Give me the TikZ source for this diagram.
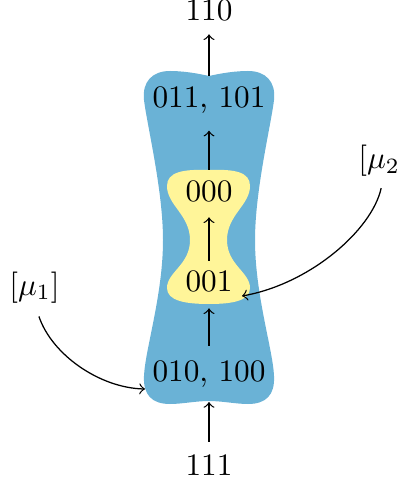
\documentclass[tikz,border=0pt]{standalone}
\definecolor{blueblob}{RGB}{106,178,214}
\definecolor{yellowblob}{RGB}{255,245,153}
\begin{document}
\begin{tikzpicture}[x=0.32pt,y=-0.32pt,
  lbl/.style={anchor=base,inner sep=0pt,font=\fontsize{10}{12}\selectfont},
  arr/.style={->,line width=0.4pt}]
\useasboundingbox (0,0) rectangle (400,486);
% outer (blue) region
\fill[blueblob] (209,76) .. controls (222,73) and (236,71) .. (248,71)
  .. controls (266,71) and (276,82) .. (274,100)
  .. controls (271,125) and (255,190) .. (255,240)
  .. controls (255,295) and (273,350) .. (274,376)
  .. controls (275,395) and (266,404) .. (248,404)
  .. controls (236,404) and (222,401) .. (209,401)
  .. controls (196,401) and (182,404) .. (170,404)
  .. controls (152,404) and (143,395) .. (144,376)
  .. controls (145,350) and (163,295) .. (163,240)
  .. controls (163,190) and (147,125) .. (144,100)
  .. controls (142,82) and (152,71) .. (170,71)
  .. controls (182,71) and (196,73) .. (209,76) -- cycle;
% inner (yellow) region
\fill[yellowblob] (209,170) .. controls (235,169) and (250,172) .. (250,186)
  .. controls (250,205) and (227,215) .. (227,240)
  .. controls (227,265) and (250,272) .. (250,288)
  .. controls (250,301) and (232,304) .. (209,304)
  .. controls (186,304) and (167,301) .. (167,288)
  .. controls (167,272) and (190,265) .. (190,240)
  .. controls (190,215) and (167,205) .. (167,186)
  .. controls (167,172) and (183,169) .. (209,170) -- cycle;
% anchor points on the regions
\coordinate (blueTop) at (209,76);
\coordinate (blueBot) at (209,402);
\coordinate (yelTop) at (209,170);
\coordinate (blueL) at (145,389);
\coordinate (yelR) at (242,296);
% labels
\node[lbl] (n110) at (209,21) {110};
\node[lbl] (n011) at (209,108) {011, 101};
\node[lbl] (n000) at (209,202) {000};
\node[lbl] (n001) at (209,292) {001};
\node[lbl] (n010) at (209,381) {010, 100};
\node[lbl] (n111) at (209,475) {111};
\node[lbl] (mu1) at (34.5,295) {$[\mu_1]$};
\node[lbl] (mu2) at (383.5,169) {$[\mu_2]$};
% connectors
\draw[arr,shorten <=3.84pt] (n111.north) -- (blueBot);
\draw[arr,shorten <=4.48pt,shorten >=4.8pt] (n010.north) -- (n001.south);
\draw[arr,shorten <=3.2pt,shorten >=4.48pt] (n001.north) -- (n000.south);
\draw[arr,shorten >=5.12pt] (yelTop) -- (n011.south);
\draw[arr,shorten >=3.84pt] (blueTop) -- (n110.south);
\draw[arr,shorten <=4.4pt] (mu1.south) .. controls (52,355) and (100,388) .. (blueL);
\draw[arr,shorten <=3.5pt] (mu2.south) .. controls (372,230) and (310,284) .. (yelR);
\end{tikzpicture}
\end{document}
